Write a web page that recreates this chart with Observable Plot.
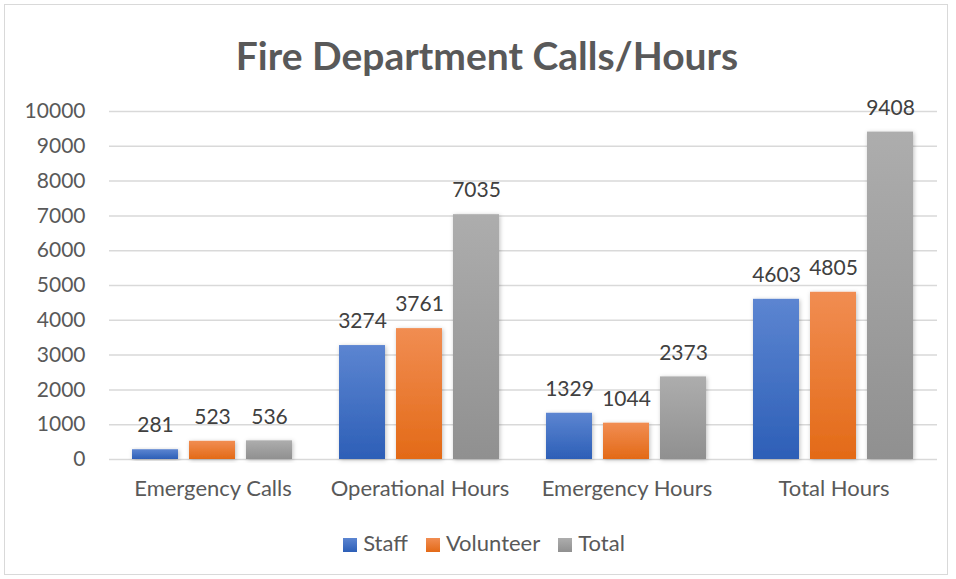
<!DOCTYPE html>
<html>
<head>
<meta charset="utf-8">
<script src="https://cdn.jsdelivr.net/npm/d3@7"></script>
<script src="https://cdn.jsdelivr.net/npm/@observablehq/plot@0.6"></script>
<style>
  html, body { margin: 0; padding: 0; background: #fff; }
  body { width: 956px; height: 579px; position: relative; overflow: hidden; font-family: Lato, "Open Sans", sans-serif; }
  #frame { position: absolute; left: 4px; top: 4px; width: 944px; height: 571px; border: 1px solid #d9d9d9; box-sizing: border-box; }
  #title { position: absolute; left: 0; top: 30px; width: 974px; text-align: center; font-size: 39px; font-weight: bold; color: #595959; line-height: 50px; }
  #chart { position: absolute; left: 0; top: 90px; }
  #legend { position: absolute; left: 0; top: 529px; width: 968px; text-align: center; font-size: 22px; color: #595959; line-height: 28px; }
  .item { display: inline-block; margin: 0 9px; }
  .sw { display: inline-block; width: 14px; height: 14px; margin-right: 6px; vertical-align: -1px; }
</style>
</head>
<body>
<div id="frame"></div>
<div id="title">Fire Department Calls/Hours</div>
<div id="chart"></div>
<div id="legend"></div>
<script>
const categories = ["Emergency Calls", "Operational Hours", "Emergency Hours", "Total Hours"];
const series = ["Staff", "Volunteer", "Total"];
const staff = [281, 3274, 1329, 4603];
const volunteer = [523, 3761, 1044, 4805];
const total = [536, 7035, 2373, 9408];
const yTicks = [0, 1000, 2000, 3000, 4000, 5000, 6000, 7000, 8000, 9000, 10000];

const gradTop = ["#5c85d1", "#f18d52", "#adadad"];
const gradBottom = ["#2d5fb7", "#e36a17", "#909090"];

const seriesValues = [staff, volunteer, total];
const data = [];
categories.forEach((c, i) => {
  series.forEach((s, j) => data.push({category: c, series: s, value: seriesValues[j][i]}));
});

const plot = Plot.plot({
  width: 956,
  height: 420,
  marginTop: 21,
  marginBottom: 51,
  marginLeft: 107,
  marginRight: 18,
  style: {fontFamily: "Lato, 'Open Sans', sans-serif", fontSize: "21px", color: "#595959", background: "transparent"},
  fx: {domain: categories, padding: 0, label: null},
  x: {domain: series, axis: null, paddingInner: 0.19, paddingOuter: 0.38},
  y: {domain: [0, 10000], ticks: yTicks, tickFormat: d => String(d), label: null, tickSize: 0, tickPadding: 24, grid: false},
  color: {domain: series, range: series.map((s, j) => `url(#grad${j})`)},
  marks: [
    Plot.axisFx({anchor: "bottom", tickSize: 0, tickPadding: 21, fontSize: 22, label: null}),
    Plot.ruleY(yTicks, {stroke: "#d9d9d9", strokeWidth: 1.5}),
    Plot.barY(data, {fx: "category", x: "series", y: "value", fill: "series"}),
    Plot.text(data, {fx: "category", x: "series", y: "value", text: d => String(d.value), dy: -24, fontSize: 21, fill: "#404040"})
  ]
});

// gradients + shadow
const svg = d3.select(plot);
const defs = svg.insert("defs", ":first-child");
series.forEach((s, j) => {
  const g = defs.append("linearGradient").attr("id", `grad${j}`).attr("x1", 0).attr("y1", 0).attr("x2", 0).attr("y2", 1);
  g.append("stop").attr("offset", "0%").attr("stop-color", gradTop[j]);
  g.append("stop").attr("offset", "100%").attr("stop-color", gradBottom[j]);
});
const f = defs.append("filter").attr("id", "shadow").attr("x", "-20%").attr("y", "-20%").attr("width", "140%").attr("height", "140%");
f.append("feDropShadow").attr("dx", 1).attr("dy", 1).attr("stdDeviation", 2).attr("flood-color", "#000").attr("flood-opacity", 0.25);
svg.selectAll("g[aria-label='bar'] rect").attr("filter", "url(#shadow)");

document.getElementById("chart").appendChild(plot);

// legend
const legend = document.getElementById("legend");
series.forEach((s, j) => {
  const item = document.createElement("span");
  item.className = "item";
  const sw = document.createElement("span");
  sw.className = "sw";
  sw.style.background = `linear-gradient(${gradTop[j]}, ${gradBottom[j]})`;
  item.appendChild(sw);
  item.appendChild(document.createTextNode(s));
  legend.appendChild(item);
});
</script>
</body>
</html>
